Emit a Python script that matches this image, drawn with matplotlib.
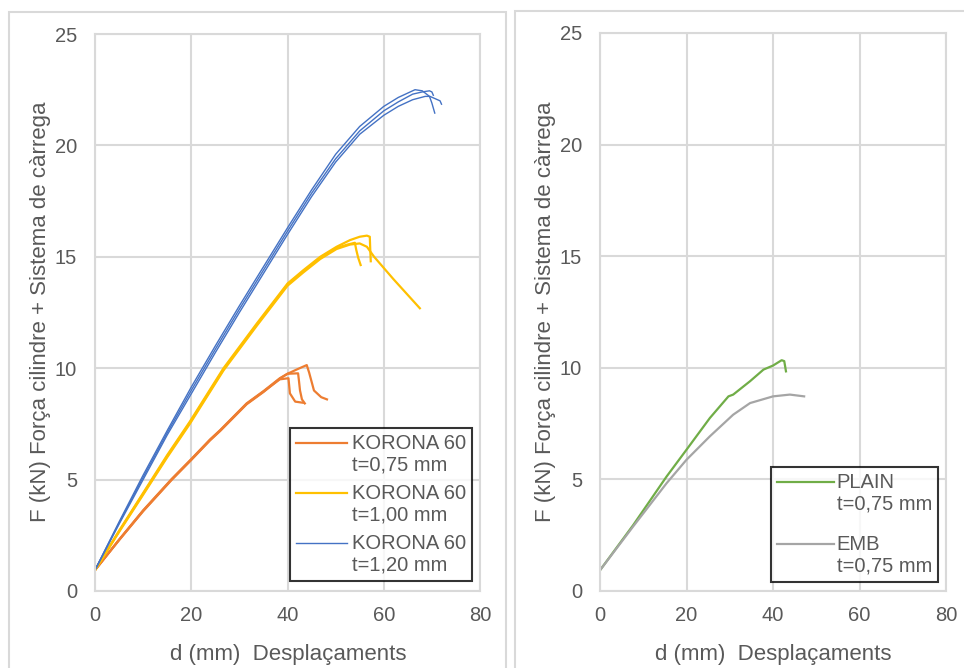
import matplotlib.pyplot as plt
import numpy as np
from matplotlib.legend_handler import HandlerLine2D
from matplotlib.patches import Rectangle

plt.rcParams['font.family'] = ['Liberation Sans', 'DejaVu Sans']

# KORONA 60, t=0,75 mm (three tests)
k075_d1 = [0, 5, 10, 15.9, 20, 23.9, 26, 31.5, 35, 38.4, 40.2, 40.5, 41.6, 43.2]
k075_f1 = [0.94, 2.3, 3.6, 5.0, 5.9, 6.78, 7.2, 8.4, 8.95, 9.5, 9.55, 8.87, 8.5, 8.45]
k075_d2 = [0, 5, 10, 15.9, 20, 23.9, 26, 31.5, 35, 38.4, 40, 42.2, 42.4, 42.6, 43.0, 43.6]
k075_f2 = [0.94, 2.3, 3.62, 5.02, 5.92, 6.8, 7.22, 8.42, 8.97, 9.55, 9.75, 9.77, 9.4, 9.0, 8.6, 8.42]
k075_d3 = [0, 5, 10, 15.9, 20, 23.9, 26, 31.5, 35, 38.4, 40, 42, 44, 44.5, 45.5, 47, 48.2]
k075_f3 = [0.94, 2.28, 3.58, 4.98, 5.88, 6.76, 7.18, 8.38, 8.93, 9.53, 9.75, 9.95, 10.14, 9.8, 9.0, 8.7, 8.6]

# KORONA 60, t=1,00 mm
k100_d1 = [0, 5, 10, 15, 19.7, 26.7, 33.6, 40, 43.3, 46.8, 50.2, 53, 55, 56.5, 57.1, 57.2, 57.3]
k100_f1 = [0.94, 2.7, 4.4, 6.1, 7.6, 10.0, 12.0, 13.8, 14.4, 15.0, 15.45, 15.75, 15.9, 15.95, 15.9, 15.3, 14.8]
k100_d2 = [0, 5, 10, 15, 19.7, 26.7, 33.6, 40, 43.3, 46.8, 50.2, 52.5, 54.0, 54.3, 54.7, 55.2]
k100_f2 = [0.94, 2.68, 4.36, 6.05, 7.55, 9.95, 11.95, 13.75, 14.35, 14.95, 15.4, 15.55, 15.63, 15.3, 14.95, 14.63]
k100_d3 = [0, 5, 10, 15, 19.7, 26.7, 33.6, 40, 43.3, 46.8, 50.2, 53, 55, 56.5, 58, 62, 67.5]
k100_f3 = [0.94, 2.65, 4.32, 6.0, 7.5, 9.9, 11.9, 13.7, 14.3, 14.9, 15.35, 15.55, 15.6, 15.45, 15.0, 14.0, 12.69]

# KORONA 60, t=1,20 mm
k120_d1 = [0, 5, 10, 15, 20, 25, 30, 35, 40, 45, 50, 55, 60, 63, 66.5, 68, 69.5, 70.0, 70.6]
k120_f1 = [0.94, 3.1, 5.2, 7.2, 9.15, 11.0, 12.8, 14.55, 16.3, 18.0, 19.6, 20.85, 21.75, 22.15, 22.5, 22.45, 22.2, 21.9, 21.45]
k120_d2 = [0, 5, 10, 15, 20, 25, 30, 35, 40, 45, 50, 55, 60, 63, 66, 68, 69.5, 70, 70.3]
k120_f2 = [0.94, 3.05, 5.1, 7.1, 9.0, 10.85, 12.65, 14.4, 16.15, 17.85, 19.4, 20.65, 21.55, 21.95, 22.3, 22.4, 22.45, 22.4, 22.25]
k120_d3 = [0, 5, 10, 15, 20, 25, 30, 35, 40, 45, 50, 55, 60, 63, 66, 68.6, 69.6, 71.7, 72.0]
k120_f3 = [0.94, 3.0, 5.0, 7.0, 8.85, 10.7, 12.5, 14.25, 16.0, 17.7, 19.25, 20.5, 21.35, 21.75, 22.05, 22.2, 22.2, 22.0, 21.85]

# PLAIN and EMB, t=0,75 mm
plain_d = [0, 7.7, 15.4, 20, 25.4, 29.7, 30.8, 34.7, 37.8, 40, 42, 42.6, 43]
plain_f = [0.93, 2.96, 5.13, 6.33, 7.75, 8.72, 8.8, 9.4, 9.92, 10.1, 10.34, 10.3, 9.84]
emb_d = [0, 7.7, 15.4, 20, 25.4, 30.8, 34.7, 40, 43.9, 47.2]
emb_f = [0.93, 2.9, 4.83, 5.88, 6.93, 7.9, 8.42, 8.72, 8.8, 8.72]

W, H = 964, 668
fig = plt.figure(figsize=(W / 100, H / 100), dpi=100)

grid_c = '#d9d9d9'
text_c = '#595959'


class FirstLineHandler(HandlerLine2D):
    # put the legend line level with the first text line, like Excel
    def create_artists(self, legend, orig_handle, xdescent, ydescent,
                       width, height, fontsize, trans):
        arts = super().create_artists(legend, orig_handle, xdescent, ydescent,
                                      width, height, fontsize, trans)
        for a in arts:
            a.set_ydata(np.asarray(a.get_ydata()) + 0.6 * fontsize)
        return arts


def px_axes(x0, x1, y0, y1):
    return fig.add_axes([x0 / W, 1 - y1 / H, (x1 - x0) / W, (y1 - y0) / H])


def style(ax):
    ax.set_xlim(0, 80)
    ax.set_ylim(0, 25)
    ax.set_xticks([0, 20, 40, 60, 80])
    ax.set_yticks([0, 5, 10, 15, 20, 25])
    ax.grid(True, color=grid_c, linewidth=1.5)
    ax.set_axisbelow(True)
    for s in ax.spines.values():
        s.set_color(grid_c)
        s.set_linewidth(1.5)
    ax.tick_params(length=0, labelsize=14.5, colors=text_c)
    ax.tick_params(axis='y', pad=13)
    ax.tick_params(axis='x', pad=11)


def frame_legend(leg):
    leg.get_frame().set_edgecolor('black')
    leg.get_frame().set_linewidth(1.5)


# panel frames
fig.add_artist(Rectangle((9 / W, -0.02), 497 / W, 1.02 - 12 / H, transform=fig.transFigure,
                         fill=False, edgecolor=grid_c, linewidth=1.5))
fig.add_artist(Rectangle((515 / W, -0.02), 470 / W, 1.02 - 11 / H, transform=fig.transFigure,
                         fill=False, edgecolor=grid_c, linewidth=1.5))

# left chart
ax1 = px_axes(95, 480, 34, 591)
style(ax1)
orange, yellow, blue = '#ED7D31', '#FFC000', '#4472C4'
l1, = ax1.plot(k075_d1, k075_f1, color=orange, lw=1.6)
ax1.plot(k075_d2, k075_f2, color=orange, lw=1.6)
ax1.plot(k075_d3, k075_f3, color=orange, lw=1.6)
l2, = ax1.plot(k100_d1, k100_f1, color=yellow, lw=1.6)
ax1.plot(k100_d2, k100_f2, color=yellow, lw=1.6)
ax1.plot(k100_d3, k100_f3, color=yellow, lw=1.6)
l3, = ax1.plot(k120_d1, k120_f1, color=blue, lw=1.0)
ax1.plot(k120_d2, k120_f2, color=blue, lw=1.0)
ax1.plot(k120_d3, k120_f3, color=blue, lw=1.0)

leg1 = ax1.legend([l1, l2, l3],
                  ['KORONA 60\nt=0,75 mm', 'KORONA 60\nt=1,00 mm', 'KORONA 60\nt=1,20 mm'],
                  loc='lower right', bbox_to_anchor=(472 / W, 1 - 581 / H),
                  bbox_transform=fig.transFigure, borderaxespad=0, fancybox=False,
                  fontsize=14.5, labelcolor=text_c, handlelength=2.5, handletextpad=0.25,
                  borderpad=0.3, labelspacing=0.45,
                  handler_map={l1: FirstLineHandler(), l2: FirstLineHandler(), l3: FirstLineHandler()})
frame_legend(leg1)

# right chart
ax2 = px_axes(600, 946, 33, 591)
style(ax2)
g1, = ax2.plot(plain_d, plain_f, color='#70AD47', lw=1.6)
g2, = ax2.plot(emb_d, emb_f, color='#A5A5A5', lw=1.6)
leg2 = ax2.legend([g1, g2], ['PLAIN\nt=0,75 mm', 'EMB\nt=0,75 mm'],
                  loc='lower right', bbox_to_anchor=(938 / W, 1 - 582 / H),
                  bbox_transform=fig.transFigure, borderaxespad=0, fancybox=False,
                  fontsize=14.5, labelcolor=text_c, handlelength=2.8, handletextpad=0.15,
                  borderpad=0.3, labelspacing=1.05,
                  handler_map={g1: FirstLineHandler(), g2: FirstLineHandler()})
frame_legend(leg2)

# axis titles
ylab = 'F (kN) Força cilindre + Sistema de càrrega'
xlab = 'd (mm)  Desplaçaments'
fig.text(41 / W, 1 - 312 / H, ylab, rotation=90, ha='center', va='center',
         fontsize=16, color=text_c)
fig.text(545 / W, 1 - 312 / H, ylab, rotation=90, ha='center', va='center',
         fontsize=16, color=text_c)
fig.text(288 / W, 1 - 660 / H, xlab, ha='center', va='baseline', fontsize=16, color=text_c)
fig.text(773 / W, 1 - 660 / H, xlab, ha='center', va='baseline', fontsize=16, color=text_c)

fig.savefig('out.png', dpi=100)
